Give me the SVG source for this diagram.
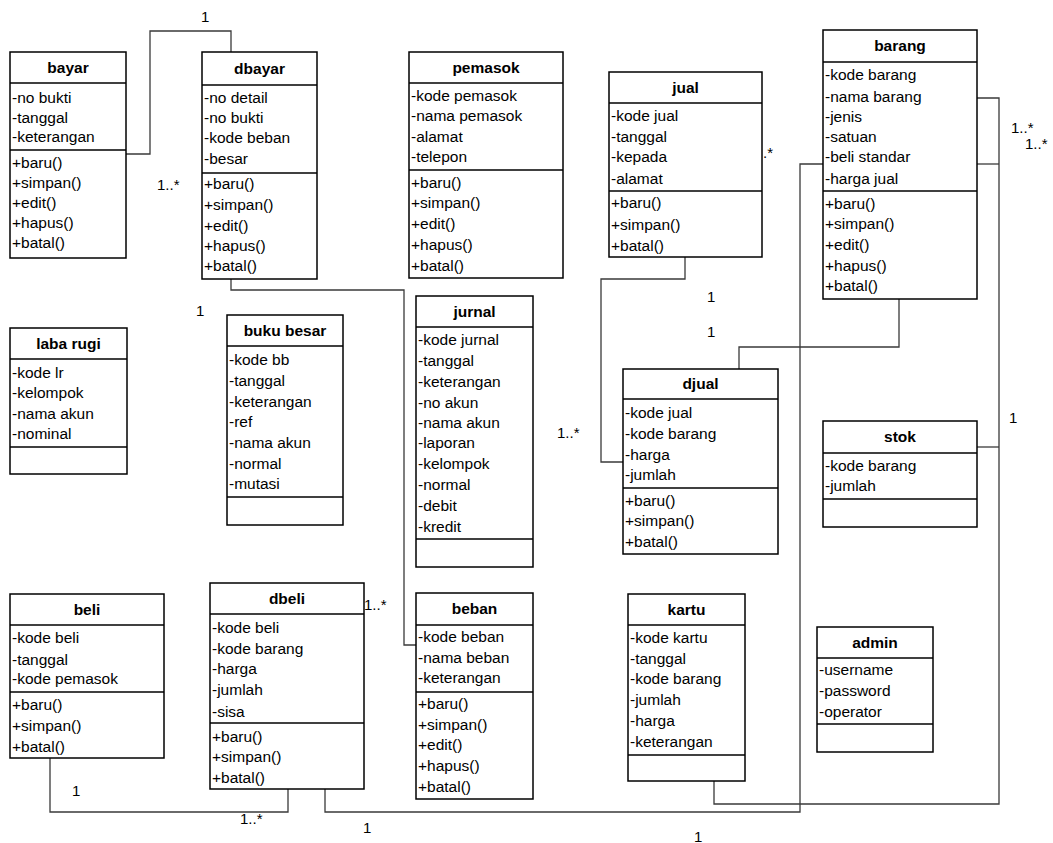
<svg xmlns="http://www.w3.org/2000/svg" width="1053" height="843" viewBox="0 0 1053 843">
<style>
.box{fill:#fff;stroke:#000;stroke-width:1.5}
.sep{stroke:#000;stroke-width:1.5}
.t{font-family:"Liberation Sans",Arial,sans-serif;font-size:15.5px;font-weight:bold;text-anchor:middle;fill:#000}
.a{font-family:"Liberation Sans",Arial,sans-serif;font-size:15.5px;fill:#000}
.lbl{font-family:"Liberation Sans",Arial,sans-serif;font-size:15px;fill:#000}
.c{fill:none;stroke:#3a3a3a;stroke-width:1.3}
</style>
<rect width="1053" height="843" fill="#fff"/>
<g id="connectors">
<path class="c" d="M126,154 H150 V31 H231 V52"/>
<path class="c" d="M231,279 V290 H404 V645 H416"/>
<path class="c" d="M685,257 V279 H601 V462 H623"/>
<path class="c" d="M739,369 V347 H899 V299"/>
<path class="c" d="M977,98 H999 V804 H714 V781"/>
<path class="c" d="M977,164 H999"/>
<path class="c" d="M977,447 H999"/>
<path class="c" d="M50,758 V812 H288 V789"/>
<path class="c" d="M325,789 V812 H800 V164 H823"/>
</g>
<g id="labels">
<text class="lbl" x="201" y="22">1</text>
<text class="lbl" x="157" y="190">1..*</text>
<text class="lbl" x="196" y="316">1</text>
<text class="lbl" x="364" y="610">1..*</text>
<text class="lbl" x="763" y="158">.*</text>
<text class="lbl" x="1011" y="133">1..*</text>
<text class="lbl" x="1025" y="149">1..*</text>
<text class="lbl" x="1009" y="423">1</text>
<text class="lbl" x="557" y="438">1..*</text>
<text class="lbl" x="707" y="302">1</text>
<text class="lbl" x="707" y="337">1</text>
<text class="lbl" x="72" y="796">1</text>
<text class="lbl" x="240" y="824">1..*</text>
<text class="lbl" x="363" y="833">1</text>
<text class="lbl" x="694" y="842">1</text>
</g>
<g id="bayar">
<rect class="box" x="10" y="52" width="116" height="206"/>
<line class="sep" x1="10" y1="83" x2="126" y2="83"/>
<line class="sep" x1="10" y1="150" x2="126" y2="150"/>
<text class="t" x="68" y="73">bayar</text>
<text class="a" x="12" y="103">-no bukti</text>
<text class="a" x="12" y="123">-tanggal</text>
<text class="a" x="12" y="142">-keterangan</text>
<text class="a" x="12" y="168">+baru()</text>
<text class="a" x="12" y="188">+simpan()</text>
<text class="a" x="12" y="208">+edit()</text>
<text class="a" x="12" y="228">+hapus()</text>
<text class="a" x="12" y="248">+batal()</text>
</g>
<g id="dbayar">
<rect class="box" x="202" y="52" width="115" height="227"/>
<line class="sep" x1="202" y1="85" x2="317" y2="85"/>
<line class="sep" x1="202" y1="173" x2="317" y2="173"/>
<text class="t" x="259.5" y="74">dbayar</text>
<text class="a" x="204" y="103">-no detail</text>
<text class="a" x="204" y="123">-no bukti</text>
<text class="a" x="204" y="143">-kode beban</text>
<text class="a" x="204" y="164">-besar</text>
<text class="a" x="204" y="189">+baru()</text>
<text class="a" x="204" y="210">+simpan()</text>
<text class="a" x="204" y="231">+edit()</text>
<text class="a" x="204" y="251">+hapus()</text>
<text class="a" x="204" y="271">+batal()</text>
</g>
<g id="pemasok">
<rect class="box" x="409" y="52" width="154" height="226"/>
<line class="sep" x1="409" y1="83" x2="563" y2="83"/>
<line class="sep" x1="409" y1="170" x2="563" y2="170"/>
<text class="t" x="486" y="73">pemasok</text>
<text class="a" x="411" y="101">-kode pemasok</text>
<text class="a" x="411" y="121">-nama pemasok</text>
<text class="a" x="411" y="142">-alamat</text>
<text class="a" x="411" y="162">-telepon</text>
<text class="a" x="411" y="188">+baru()</text>
<text class="a" x="411" y="208">+simpan()</text>
<text class="a" x="411" y="229">+edit()</text>
<text class="a" x="411" y="250">+hapus()</text>
<text class="a" x="411" y="271">+batal()</text>
</g>
<g id="jual">
<rect class="box" x="609" y="72" width="153" height="185"/>
<line class="sep" x1="609" y1="103" x2="762" y2="103"/>
<line class="sep" x1="609" y1="191" x2="762" y2="191"/>
<text class="t" x="685.5" y="93">jual</text>
<text class="a" x="611" y="121">-kode jual</text>
<text class="a" x="611" y="142">-tanggal</text>
<text class="a" x="611" y="162">-kepada</text>
<text class="a" x="611" y="184">-alamat</text>
<text class="a" x="611" y="208">+baru()</text>
<text class="a" x="611" y="230">+simpan()</text>
<text class="a" x="611" y="251">+batal()</text>
</g>
<g id="barang">
<rect class="box" x="823" y="30" width="154" height="269"/>
<line class="sep" x1="823" y1="62" x2="977" y2="62"/>
<line class="sep" x1="823" y1="191" x2="977" y2="191"/>
<text class="t" x="900" y="51">barang</text>
<text class="a" x="825" y="80">-kode barang</text>
<text class="a" x="825" y="102">-nama barang</text>
<text class="a" x="825" y="122">-jenis</text>
<text class="a" x="825" y="142">-satuan</text>
<text class="a" x="825" y="162">-beli standar</text>
<text class="a" x="825" y="184">-harga jual</text>
<text class="a" x="825" y="209">+baru()</text>
<text class="a" x="825" y="229">+simpan()</text>
<text class="a" x="825" y="250">+edit()</text>
<text class="a" x="825" y="271">+hapus()</text>
<text class="a" x="825" y="291">+batal()</text>
</g>
<g id="laba-rugi">
<rect class="box" x="10" y="328" width="117" height="146"/>
<line class="sep" x1="10" y1="359" x2="127" y2="359"/>
<line class="sep" x1="10" y1="447" x2="127" y2="447"/>
<text class="t" x="68.5" y="349">laba rugi</text>
<text class="a" x="12" y="378">-kode lr</text>
<text class="a" x="12" y="398">-kelompok</text>
<text class="a" x="12" y="419">-nama akun</text>
<text class="a" x="12" y="439">-nominal</text>
</g>
<g id="buku-besar">
<rect class="box" x="227" y="315" width="116" height="210"/>
<line class="sep" x1="227" y1="346" x2="343" y2="346"/>
<line class="sep" x1="227" y1="497" x2="343" y2="497"/>
<text class="t" x="285" y="336">buku besar</text>
<text class="a" x="229" y="365">-kode bb</text>
<text class="a" x="229" y="386">-tanggal</text>
<text class="a" x="229" y="407">-keterangan</text>
<text class="a" x="229" y="427">-ref</text>
<text class="a" x="229" y="448">-nama akun</text>
<text class="a" x="229" y="469">-normal</text>
<text class="a" x="229" y="489">-mutasi</text>
</g>
<g id="jurnal">
<rect class="box" x="416" y="296" width="117" height="271"/>
<line class="sep" x1="416" y1="327" x2="533" y2="327"/>
<line class="sep" x1="416" y1="539" x2="533" y2="539"/>
<text class="t" x="474.5" y="317">jurnal</text>
<text class="a" x="418" y="345">-kode jurnal</text>
<text class="a" x="418" y="366">-tanggal</text>
<text class="a" x="418" y="387">-keterangan</text>
<text class="a" x="418" y="408">-no akun</text>
<text class="a" x="418" y="428">-nama akun</text>
<text class="a" x="418" y="448">-laporan</text>
<text class="a" x="418" y="469">-kelompok</text>
<text class="a" x="418" y="490">-normal</text>
<text class="a" x="418" y="511">-debit</text>
<text class="a" x="418" y="532">-kredit</text>
</g>
<g id="djual">
<rect class="box" x="623" y="369" width="155" height="185"/>
<line class="sep" x1="623" y1="399" x2="778" y2="399"/>
<line class="sep" x1="623" y1="488" x2="778" y2="488"/>
<text class="t" x="700.5" y="389">djual</text>
<text class="a" x="625" y="418">-kode jual</text>
<text class="a" x="625" y="439">-kode barang</text>
<text class="a" x="625" y="460">-harga</text>
<text class="a" x="625" y="480">-jumlah</text>
<text class="a" x="625" y="506">+baru()</text>
<text class="a" x="625" y="526">+simpan()</text>
<text class="a" x="625" y="547">+batal()</text>
</g>
<g id="stok">
<rect class="box" x="823" y="421" width="154" height="106"/>
<line class="sep" x1="823" y1="453" x2="977" y2="453"/>
<line class="sep" x1="823" y1="499" x2="977" y2="499"/>
<text class="t" x="900" y="442">stok</text>
<text class="a" x="825" y="471">-kode barang</text>
<text class="a" x="825" y="491">-jumlah</text>
</g>
<g id="beli">
<rect class="box" x="10" y="594" width="154" height="164"/>
<line class="sep" x1="10" y1="625" x2="164" y2="625"/>
<line class="sep" x1="10" y1="692" x2="164" y2="692"/>
<text class="t" x="87" y="615">beli</text>
<text class="a" x="12" y="643">-kode beli</text>
<text class="a" x="12" y="665">-tanggal</text>
<text class="a" x="12" y="684">-kode pemasok</text>
<text class="a" x="12" y="710">+baru()</text>
<text class="a" x="12" y="731">+simpan()</text>
<text class="a" x="12" y="752">+batal()</text>
</g>
<g id="dbeli">
<rect class="box" x="210" y="583" width="154" height="206"/>
<line class="sep" x1="210" y1="614" x2="364" y2="614"/>
<line class="sep" x1="210" y1="723" x2="364" y2="723"/>
<text class="t" x="287" y="604">dbeli</text>
<text class="a" x="212" y="633">-kode beli</text>
<text class="a" x="212" y="654">-kode barang</text>
<text class="a" x="212" y="674">-harga</text>
<text class="a" x="212" y="695">-jumlah</text>
<text class="a" x="212" y="717">-sisa</text>
<text class="a" x="212" y="742">+baru()</text>
<text class="a" x="212" y="762">+simpan()</text>
<text class="a" x="212" y="783">+batal()</text>
</g>
<g id="beban">
<rect class="box" x="416" y="593" width="117" height="206"/>
<line class="sep" x1="416" y1="625" x2="533" y2="625"/>
<line class="sep" x1="416" y1="692" x2="533" y2="692"/>
<text class="t" x="474.5" y="614">beban</text>
<text class="a" x="418" y="642">-kode beban</text>
<text class="a" x="418" y="663">-nama beban</text>
<text class="a" x="418" y="683">-keterangan</text>
<text class="a" x="418" y="709">+baru()</text>
<text class="a" x="418" y="730">+simpan()</text>
<text class="a" x="418" y="750">+edit()</text>
<text class="a" x="418" y="771">+hapus()</text>
<text class="a" x="418" y="792">+batal()</text>
</g>
<g id="kartu">
<rect class="box" x="628" y="594" width="117" height="187"/>
<line class="sep" x1="628" y1="625" x2="745" y2="625"/>
<line class="sep" x1="628" y1="755" x2="745" y2="755"/>
<text class="t" x="686.5" y="615">kartu</text>
<text class="a" x="630" y="643">-kode kartu</text>
<text class="a" x="630" y="664">-tanggal</text>
<text class="a" x="630" y="684">-kode barang</text>
<text class="a" x="630" y="705">-jumlah</text>
<text class="a" x="630" y="726">-harga</text>
<text class="a" x="630" y="747">-keterangan</text>
</g>
<g id="admin">
<rect class="box" x="817" y="627" width="116" height="125"/>
<line class="sep" x1="817" y1="658" x2="933" y2="658"/>
<line class="sep" x1="817" y1="724" x2="933" y2="724"/>
<text class="t" x="875" y="648">admin</text>
<text class="a" x="819" y="675">-username</text>
<text class="a" x="819" y="696">-password</text>
<text class="a" x="819" y="717">-operator</text>
</g>
</svg>
